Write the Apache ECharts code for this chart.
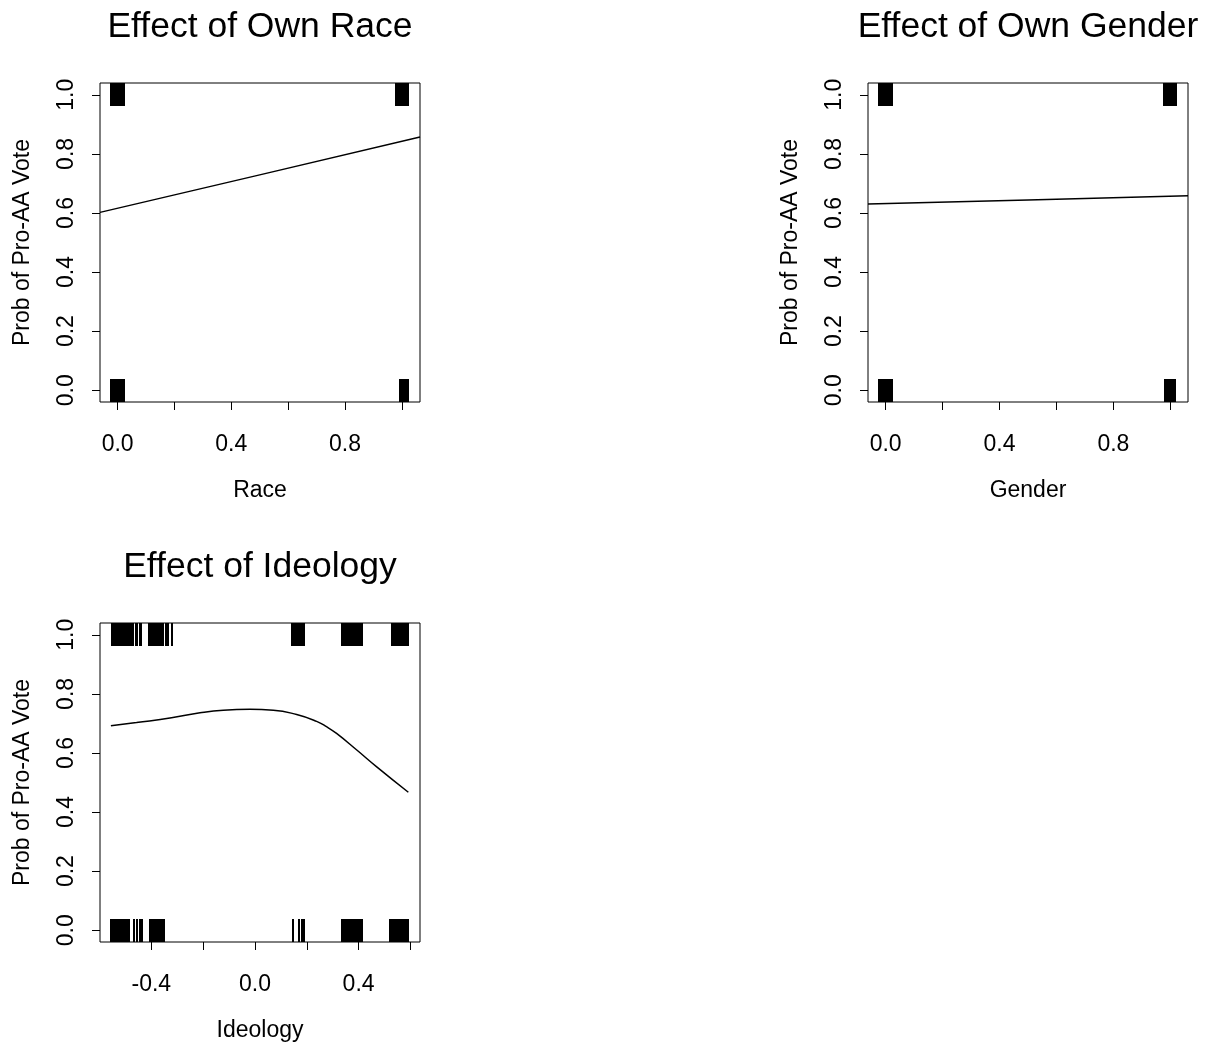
<!DOCTYPE html>
<html>
<head>
<meta charset="utf-8">
<script src="https://cdn.jsdelivr.net/npm/echarts@6/dist/echarts.min.js"></script>
<style>
html,body{margin:0;padding:0;background:#fff;}
#chart{width:1218px;height:1051px;}
</style>
</head>
<body>
<div id="chart"></div>
<script>
// ---------- data ----------
const titles = ["Effect of Own Race", "Effect of Own Gender", "Effect of Ideology"];
const xNames = ["Race", "Gender", "Ideology"];
const yName = "Prob of Pro-AA Vote";

const yTicks = [0, 0.2, 0.4, 0.6, 0.8, 1.0];
const yLabels = [0, 0.2, 0.4, 0.6, 0.8, 1.0];
const binTicks = [0, 0.2, 0.4, 0.6, 0.8, 1.0];
const binLabels = [0, 0.4, 0.8];
const ideoTicks = [-0.4, -0.2, 0, 0.2, 0.4, 0.6];
const ideoLabels = [-0.4, 0, 0.4];

// fitted curves
const raceX = [-0.062, 0.5, 1.064];
const raceY = [0.602, 0.729, 0.857];
const genderX = [-0.062, 0.5, 1.062];
const genderY = [0.630, 0.644, 0.658];
const ideoX = [-0.556, -0.457, -0.322, -0.212, -0.122, -0.019, 0.071, 0.161, 0.238, 0.276, 0.315, 0.393, 0.470, 0.592];
const ideoY = [0.692, 0.703, 0.719, 0.736, 0.745, 0.748, 0.745, 0.730, 0.707, 0.689, 0.666, 0.610, 0.553, 0.467];

// rug observations (jittered x of cases with vote = 1 (top) and vote = 0 (bottom))
const raceRug1 = [-0.024,-0.020,-0.017,-0.013,-0.010,-0.006,-0.003,0.000,0.003,0.007,0.010,0.014,0.018,0.022,
  0.980,0.984,0.987,0.991,0.994,0.998,1.001,1.005,1.008,1.012,1.016,1.020,1.023];
const raceRug0 = [-0.024,-0.020,-0.017,-0.013,-0.010,-0.006,-0.003,0.000,0.003,0.007,0.010,0.014,0.018,0.022,
  0.994,1.001,1.006,1.010,1.016,1.022];
const genderRug1 = [-0.025,-0.021,-0.018,-0.014,-0.011,-0.007,-0.004,0.000,0.003,0.007,0.010,0.014,0.017,0.020,0.023,
  0.978,0.982,0.985,0.989,0.992,0.996,0.999,1.003,1.006,1.010,1.013,1.017,1.021];
const genderRug0 = [-0.025,-0.021,-0.018,-0.014,-0.011,-0.007,-0.004,0.000,0.003,0.007,0.010,0.014,0.017,0.020,0.023,
  0.980,0.986,0.992,0.995,0.999,1.002,1.006,1.009,1.013,1.017];
const ideoRug1 = [-0.551,-0.547,-0.543,-0.539,-0.535,-0.531,-0.527,-0.523,-0.519,-0.515,-0.511,-0.507,-0.503,-0.499,-0.495,-0.491,-0.487,-0.485,
  -0.478,-0.471,-0.460,-0.455,-0.445,-0.441,
  -0.410,-0.406,-0.402,-0.398,-0.394,-0.390,-0.386,-0.382,-0.378,-0.374,-0.370,-0.366,-0.362,-0.360,
  -0.354,-0.345,-0.337,-0.322,
  0.144,0.148,0.152,0.156,0.160,0.164,0.168,0.172,0.176,0.180,0.184,0.188,
  0.336,0.340,0.344,0.348,0.352,0.356,0.360,0.364,0.368,0.372,0.376,0.380,0.384,0.388,0.392,0.396,0.400,0.404,0.408,0.412,
  0.528,0.532,0.536,0.540,0.544,0.548,0.552,0.556,0.560,0.564,0.568,0.572,0.576,0.580,0.584,0.588,0.592];
const ideoRug0 = [-0.556,-0.549,-0.544,
  -0.537,-0.533,-0.529,-0.525,-0.521,-0.517,-0.513,-0.509,-0.505,-0.501,-0.497,-0.493,-0.489,-0.485,
  -0.466,-0.457,-0.444,-0.436,
  -0.405,-0.401,-0.397,-0.393,-0.389,-0.385,-0.381,-0.377,-0.373,-0.369,-0.365,-0.361,-0.357,-0.353,-0.351,
  0.145,0.171,0.181,0.185,0.189,
  0.335,0.339,0.343,0.347,0.351,0.355,0.359,0.363,0.367,0.371,0.375,0.379,0.383,0.387,0.391,0.395,0.399,0.403,0.407,0.412,
  0.521,0.525,0.529,0.533,0.537,0.541,0.545,0.549,0.553,0.557,0.561,0.565,0.569,0.573,0.577,0.581,0.585,0.590];

// ---------- chart ----------
const FONT = '"Liberation Sans", Arial, Helvetica, sans-serif';
const chart = echarts.init(document.getElementById('chart'), null, {renderer: 'canvas'});

const grids = [
  {left: 100, top: 83, width: 320, height: 319},
  {left: 868, top: 83, width: 320, height: 319},
  {left: 100, top: 623, width: 320, height: 319}
];
const xRanges = [[-0.062, 1.064], [-0.062, 1.062], [-0.598, 0.637]];
const xTickSets = [binTicks, binTicks, ideoTicks];
const xLabelSets = [binLabels, binLabels, ideoLabels];

const fmt = v => (Math.abs(v) < 1e-9 ? 0 : v).toFixed(1);

const xAxes = grids.map((g, i) => ({
  type: 'value', gridIndex: i, min: xRanges[i][0], max: xRanges[i][1],
  name: xNames[i], nameLocation: 'middle', nameGap: 77,
  nameTextStyle: {fontFamily: FONT, fontSize: 23, color: '#000'},
  axisLine: {show: false, onZero: false},
  splitLine: {show: false},
  axisTick: {show: true, inside: false, length: 8, lineStyle: {color: '#000', width: 1}, customValues: xTickSets[i]},
  axisLabel: {show: true, margin: 31, fontFamily: FONT, fontSize: 23, color: '#000', customValues: xLabelSets[i], formatter: fmt}
}));
const yAxes = grids.map((g, i) => ({
  type: 'value', gridIndex: i, min: -0.04, max: 1.04,
  name: yName, nameLocation: 'middle', nameGap: 66, nameRotate: 90,
  nameTextStyle: {fontFamily: FONT, fontSize: 23, color: '#000'},
  axisLine: {show: false, onZero: false},
  splitLine: {show: false},
  axisTick: {show: true, inside: false, length: 8, lineStyle: {color: '#000', width: 1}, customValues: yTicks},
  axisLabel: {show: true, rotate: 90, margin: 22, fontFamily: FONT, fontSize: 23, color: '#000', customValues: yLabels, formatter: fmt}
}));

function rug(side) {
  return function (params, api) {
    const p = api.coord([api.value(0), api.value(1)]);
    const cs = params.coordSys;
    const len = 23;
    const x = Math.round(p[0]);
    const y1 = side === 'top' ? cs.y : cs.y + cs.height;
    const y2 = side === 'top' ? cs.y + len : cs.y + cs.height - len;
    return {type: 'line', shape: {x1: x, y1: y1, x2: x, y2: y2},
      style: {stroke: '#000', lineWidth: 2}};
  };
}

const curves = [[raceX, raceY], [genderX, genderY], [ideoX, ideoY]];
const rugs = [[raceRug1, raceRug0], [genderRug1, genderRug0], [ideoRug1, ideoRug0]];

const series = [];
curves.forEach((c, i) => {
  series.push({
    type: 'line', xAxisIndex: i, yAxisIndex: i, smooth: i === 2 ? 0.5 : false,
    showSymbol: false, symbol: 'none', silent: true, clip: false,
    lineStyle: {color: '#000', width: 1.5},
    data: c[0].map((x, k) => [x, c[1][k]])
  });
  series.push({
    type: 'custom', xAxisIndex: i, yAxisIndex: i, silent: true,
    renderItem: rug('top'), data: rugs[i][0].map(x => [x, 1])
  });
  series.push({
    type: 'custom', xAxisIndex: i, yAxisIndex: i, silent: true,
    renderItem: rug('bottom'), data: rugs[i][1].map(x => [x, 0])
  });
});

const titleGraphics = grids.map((g, i) => ({
  type: 'text',
  x: g.left + g.width / 2, y: g.top - 56,
  style: {text: titles[i], fill: '#000', font: '35.5px ' + FONT, align: 'center', verticalAlign: 'middle'}
}));

chart.setOption({
  animation: false,
  backgroundColor: '#fff',
  grid: grids.map(g => Object.assign({show: true, borderColor: '#000', borderWidth: 1, backgroundColor: 'transparent', containLabel: false}, g)),
  xAxis: xAxes,
  yAxis: yAxes,
  series: series,
  graphic: titleGraphics
});
</script>
</body>
</html>
